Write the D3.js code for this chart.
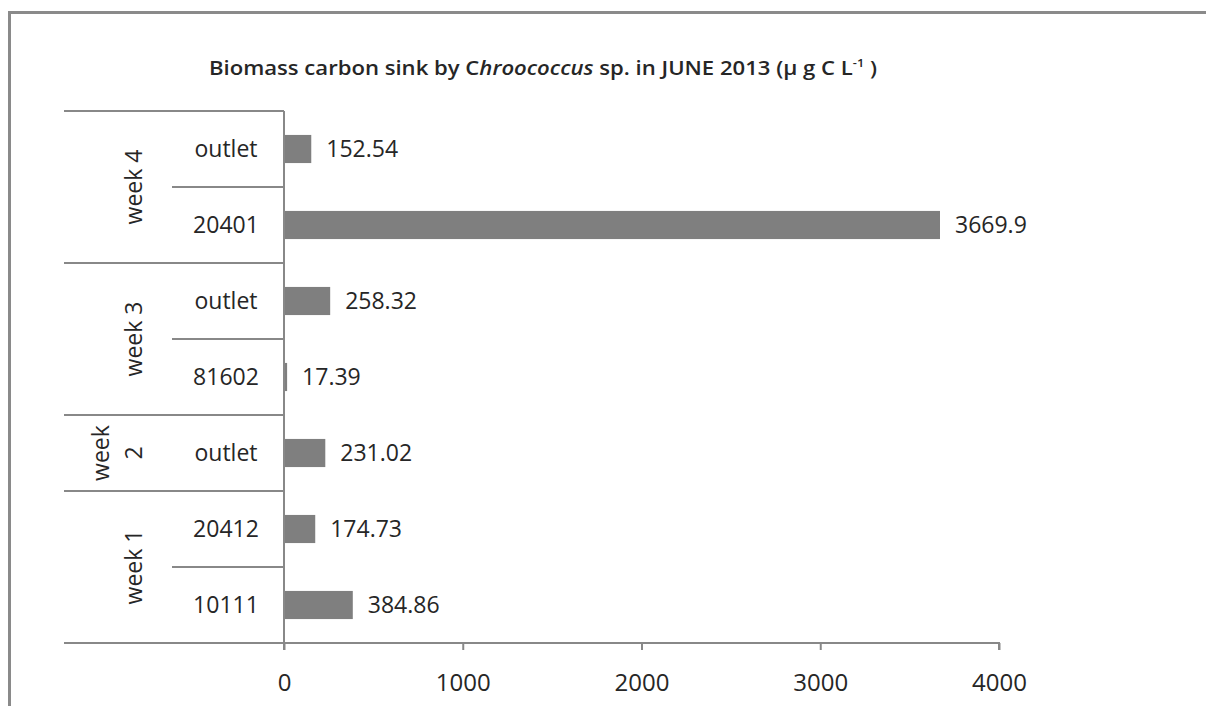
<!DOCTYPE html>
<html>
<head>
<meta charset="utf-8">
<script src="https://cdn.jsdelivr.net/npm/d3@7"></script>
<style>
  html, body { margin: 0; padding: 0; background: #ffffff; }
  svg { display: block; }
  text { font-family: "Open Sans", "DejaVu Sans", sans-serif; fill: #262626; }
</style>
</head>
<body>
<svg id="chart" width="1206" height="706"></svg>
<script>
// Biomass carbon sink by Chroococcus sp., June 2013 (µg C L-1), top row first
const sites  = ["outlet", "20401", "outlet", "81602", "outlet", "20412", "10111"];
const weeks  = ["week 4", "week 4", "week 3", "week 3", "week 2", "week 1", "week 1"];
const values = [152.54, 3669.9, 258.32, 17.39, 231.02, 174.73, 384.86];
const xTicks = [0, 1000, 2000, 3000, 4000];
const weekOrder = ["week 4", "week 3", "week 2", "week 1"];

const svg = d3.select("#chart");
const lineColor = "#888888";
const barColor = "#7f7f7f";

// outer frame
svg.append("path")
  .attr("d", "M9.5,706 V12.5 H1206")
  .attr("fill", "none")
  .attr("stroke", "#8a8a8a")
  .attr("stroke-width", 3);

const plot = { left: 284, right: 999, top: 111, bottom: 643 };

const x = d3.scaleLinear().domain([0, 4000]).range([plot.left, plot.right]);
const y = d3.scaleBand()
  .domain(d3.range(values.length))
  .range([plot.top, plot.bottom])
  .paddingInner(0.63)
  .paddingOuter(0.315);
const step = y.step();
const rowTop = i => plot.top + i * step;

// title
const title = svg.append("text")
  .attr("x", 543).attr("y", 75)
  .attr("text-anchor", "middle")
  .attr("font-size", 19)
  .attr("font-weight", 600)
  .attr("textLength", 668)
  .attr("lengthAdjust", "spacingAndGlyphs");
title.append("tspan").text("Biomass carbon sink by C");
title.append("tspan").attr("font-style", "italic").text("hroococcus");
title.append("tspan").text(" sp. in JUNE 2013 (\u00b5 g C L");
title.append("tspan").attr("font-size", 11).attr("dy", -8).text("-1");
title.append("tspan").attr("dy", 8).text(" )");

// bars
svg.append("g").selectAll("rect")
  .data(values)
  .join("rect")
  .attr("x", x(0))
  .attr("y", (d, i) => y(i))
  .attr("width", d => x(d) - x(0))
  .attr("height", y.bandwidth())
  .attr("fill", barColor);

// value labels
svg.append("g").selectAll("text")
  .data(values)
  .join("text")
  .attr("x", d => x(d) + 15)
  .attr("y", (d, i) => y(i) + y.bandwidth() / 2 + 8)
  .attr("font-size", 23)
  .text(d => d3.format(".2f")(d).replace(/0$/, "").replace(/\.$/, ""));

// x axis
const xAxis = d3.axisBottom(x).tickValues(xTicks).tickSize(7).tickPadding(24).tickFormat(d3.format("d"));
const gx = svg.append("g").attr("transform", `translate(0,${plot.bottom})`).call(xAxis);
gx.select(".domain").attr("stroke", lineColor).attr("stroke-width", 2)
  .attr("d", `M${plot.left},0H${plot.right}V7`);
gx.selectAll(".tick line").attr("stroke", lineColor).attr("stroke-width", 2);
gx.selectAll(".tick text")
  .attr("font-family", "\"Open Sans\", sans-serif")
  .attr("font-size", 24)
  .attr("fill", "#262626");

// vertical category axis line
svg.append("line")
  .attr("x1", plot.left).attr("x2", plot.left)
  .attr("y1", plot.top).attr("y2", plot.bottom + 7)
  .attr("stroke", lineColor).attr("stroke-width", 2);

// week groups
const groups = weekOrder.map(w => {
  const idx = weeks.map((d, i) => d === w ? i : -1).filter(i => i >= 0);
  return { week: w, first: d3.min(idx), last: d3.max(idx) };
});

const sep = svg.append("g").attr("stroke", lineColor).attr("stroke-width", 2);
// outer group boundaries
const boundaries = [0].concat(groups.map(g => g.last + 1));
boundaries.forEach(b => {
  sep.append("line")
    .attr("x1", 64).attr("x2", plot.left)
    .attr("y1", rowTop(b)).attr("y2", rowTop(b));
});
// inner row boundaries within a week
weeks.forEach((w, i) => {
  if (i > 0 && weeks[i - 1] === w) {
    sep.append("line")
      .attr("x1", 172).attr("x2", plot.left)
      .attr("y1", rowTop(i)).attr("y2", rowTop(i));
  }
});

// site labels
svg.append("g").selectAll("text")
  .data(sites)
  .join("text")
  .attr("x", 226)
  .attr("y", (d, i) => y(i) + y.bandwidth() / 2 + 8)
  .attr("text-anchor", "middle")
  .attr("font-size", 23)
  .text(d => d);

// week labels, rotated; single-row groups wrap onto two lines
groups.forEach(g => {
  const cy = (rowTop(g.first) + rowTop(g.last + 1)) / 2;
  const lines = g.first === g.last ? g.week.split(" ") : [g.week];
  const gap = 33;
  const baseX = 142 - (lines.length - 1) * gap;
  lines.forEach((t, k) => {
    svg.append("text")
      .attr("transform", `translate(${baseX + k * gap},${cy}) rotate(-90)`)
      .attr("text-anchor", "middle")
      .attr("font-size", 23)
      .text(t);
  });
});
</script>
</body>
</html>
